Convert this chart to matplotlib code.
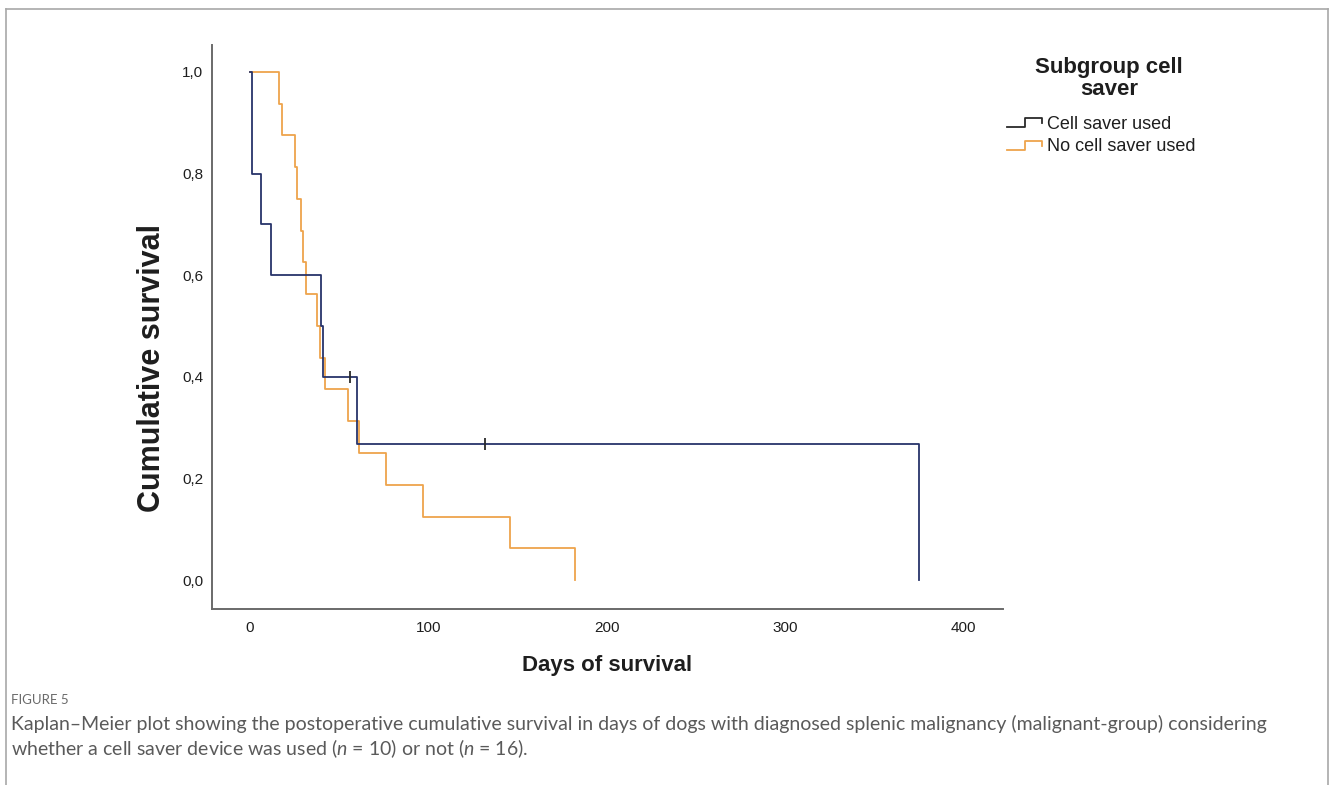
import matplotlib
matplotlib.use("Agg")
import matplotlib.pyplot as plt
from matplotlib.lines import Line2D
from matplotlib.legend_handler import HandlerBase

# DATA - Kaplan-Meier steps
cs_days = [0, 1, 6, 12, 40, 41, 60, 375]
cs_surv = [1.0, 0.8, 0.7, 0.6, 0.5, 0.4, 0.267, 0.0]
cs_censor_days = [56, 132]
cs_censor_surv = [0.4, 0.267]

nocs_days = [0, 16, 18, 25, 26.5, 28.5, 29.5, 31.5, 37.5, 39.5, 42, 55, 61, 76, 97, 146, 182]
nocs_surv = [1.0, 0.9375, 0.875, 0.8125, 0.75, 0.6875, 0.625, 0.5625, 0.5,
             0.4375, 0.375, 0.3125, 0.25, 0.1875, 0.125, 0.0625, 0.0]

x_ticks = [0, 100, 200, 300, 400]
y_ticks = [0.0, 0.2, 0.4, 0.6, 0.8, 1.0]
y_ticklabels = ["0,0", "0,2", "0,4", "0,6", "0,8", "1,0"]
series_labels = ["Cell saver used", "No cell saver used"]

# COLORS
navy = "#28346a"
orange = "#eea44c"
legend_dark = "#2a2a2a"
axis_grey = "#6a6a6a"
text_dark = "#1e1e1e"
caption_grey = "#5a5a5a"

plt.rcParams["font.family"] = ["Liberation Sans", "DejaVu Sans"]
plt.rcParams["mathtext.fontset"] = "custom"
plt.rcParams["mathtext.it"] = "Lato:italic"
plt.rcParams["mathtext.rm"] = "Lato"


class StepHandler(HandlerBase):
    # little SPSS-style step icon for the legend
    def create_artists(self, legend, orig_handle, xdescent, ydescent,
                       width, height, fontsize, trans):
        fx = [0.0, 0.5, 0.5, 0.97, 0.97]
        fy = [0.15, 0.15, 0.85, 0.85, 0.45]
        xs = [f * width - xdescent for f in fx]
        ys = [f * height - ydescent for f in fy]
        line = Line2D(xs, ys, color=orig_handle.get_color(), lw=1.3)
        line.set_transform(trans)
        return [line]


W, H = 1332, 785
fig = plt.figure(figsize=(W / 100, H / 100), dpi=100)
ax = fig.add_axes([211.7 / W, 1 - 609 / H, (1003 - 211.7) / W, (609 - 45) / H])

# curves
ax.step(nocs_days, nocs_surv, where="post", color=orange, lw=1.3)
ax.step(cs_days, cs_surv, where="post", color=navy, lw=1.3)
ax.plot(cs_censor_days, cs_censor_surv, ls="none", marker="|",
        markersize=8, markeredgewidth=1.3, color=legend_dark)

ax.set_xlim(-21.5, 422.3)
ax.set_ylim(-0.057, 1.053)
ax.set_xticks(x_ticks)
ax.set_yticks(y_ticks)
ax.set_yticklabels(y_ticklabels)
ax.tick_params(length=0, labelsize=11, labelcolor=text_dark)
ax.tick_params(axis="y", pad=6)
ax.tick_params(axis="x", pad=9)

for side in ["top", "right"]:
    ax.spines[side].set_visible(False)
for side in ["left", "bottom"]:
    ax.spines[side].set_color(axis_grey)
    ax.spines[side].set_linewidth(1.4)

ax.set_xlabel("Days of survival", fontsize=16, fontweight="bold",
              color=text_dark, va="center")
ax.xaxis.set_label_coords(0.5, (609 - 665) / 564)
ax.set_ylabel("Cumulative survival", fontsize=22, fontweight="bold",
              color=text_dark, va="center")
ax.yaxis.set_label_coords((152 - 211.7) / 791.3, (609 - 367.5) / 564)

# legend
handles = [Line2D([], [], color=legend_dark), Line2D([], [], color=orange)]
leg = fig.legend(handles, series_labels, handler_map={Line2D: StepHandler()},
                 loc="upper left", bbox_to_anchor=(1007 / W, 1 - 116 / H),
                 frameon=False, fontsize=13, handlelength=2.0, handletextpad=0.2,
                 labelspacing=0.3, borderpad=0, borderaxespad=0)
for t in leg.get_texts():
    t.set_color(text_dark)
fig.text(1109 / W, 1 - 78.5 / H, "Subgroup cell\nsaver", ha="center", va="center",
         fontsize=16, fontweight="bold", color=text_dark, linespacing=1.1)

# frame around the figure panel (open at the bottom)
frame_kw = dict(color="#a8a8a8", lw=1.2, transform=fig.transFigure)
fig.add_artist(Line2D([6 / W, 6 / W], [0, 1 - 9 / H], **frame_kw))
fig.add_artist(Line2D([6 / W, 1328 / W], [1 - 9 / H, 1 - 9 / H], **frame_kw))
fig.add_artist(Line2D([1328 / W, 1328 / W], [0, 1 - 9 / H], **frame_kw))

# caption
fig.text(11 / W, 1 - 700 / H, "FIGURE 5", fontsize=9.5, family="Lato",
         color="#6a6a6a", va="center")
fig.text(11 / W, 1 - 724 / H,
         "Kaplan\u2013Meier plot showing the postoperative cumulative survival in days of dogs "
         "with diagnosed splenic malignancy (malignant-group) considering",
         fontsize=14, family="Lato", color=caption_grey, va="center")
fig.text(11 / W, 1 - 749 / H,
         "whether a cell saver device was used ($n$ = 10) or not ($n$ = 16).",
         fontsize=14, family="Lato", color=caption_grey, va="center")

fig.savefig("out.png", dpi=100)
